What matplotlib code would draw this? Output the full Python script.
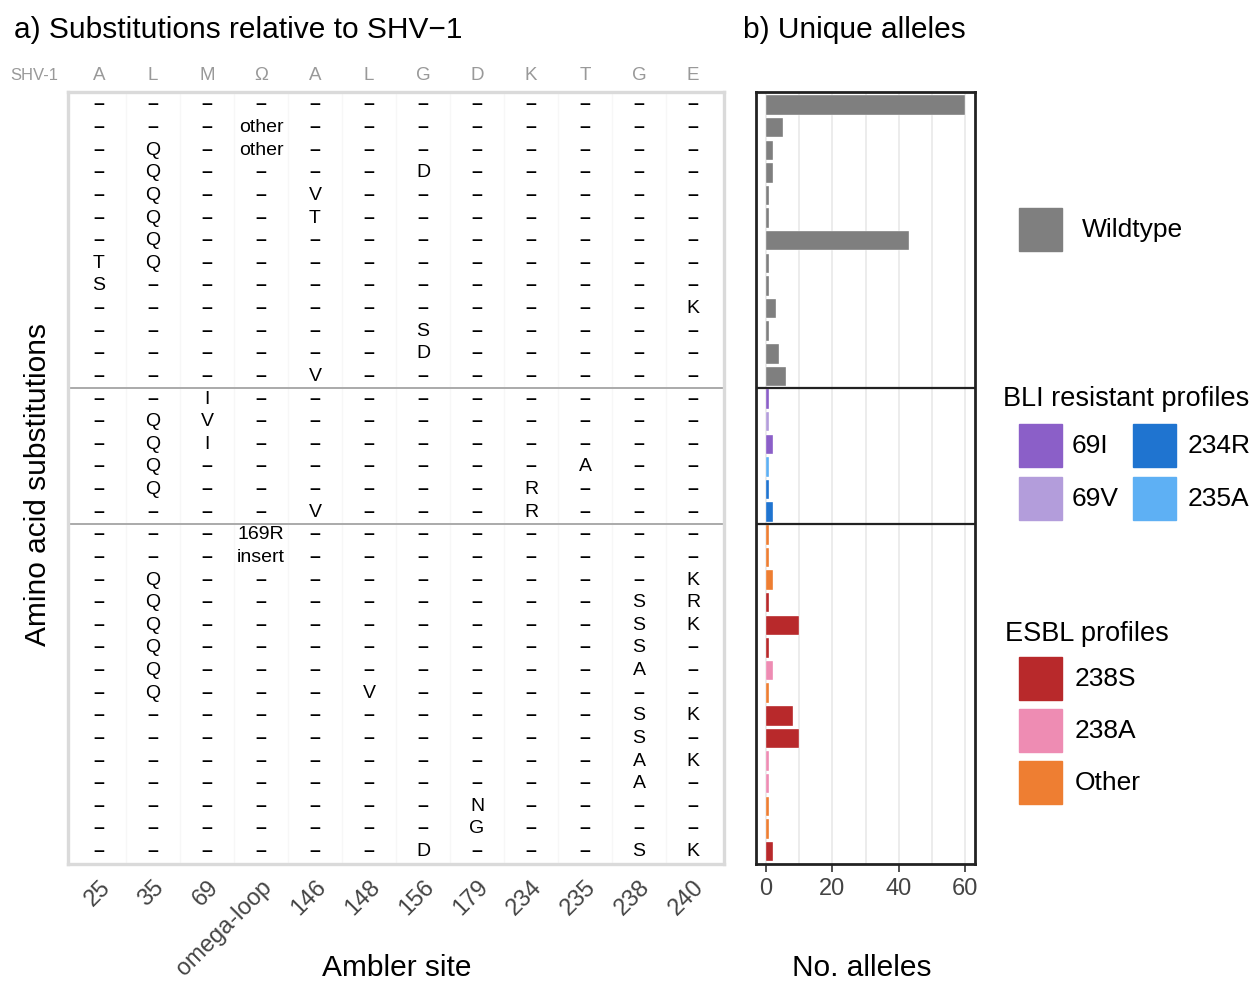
import matplotlib
matplotlib.use("Agg")
import matplotlib.pyplot as plt
import matplotlib.transforms as mtransforms
from matplotlib.patches import Rectangle

plt.rcParams['font.family'] = ['Liberation Sans', 'DejaVu Sans']

# ---------------- data ----------------
sites = ["25", "35", "69", "omega-loop", "146", "148", "156", "179", "234", "235", "238", "240"]
shv1_residues = ["A", "L", "M", "Ω", "A", "L", "G", "D", "K", "T", "G", "E"]

# one string per allele row; "-" = same as SHV-1
substitutions = [
    "- - - - - - - - - - - -",
    "- - - other - - - - - - - -",
    "- Q - other - - - - - - - -",
    "- Q - - - - D - - - - -",
    "- Q - - V - - - - - - -",
    "- Q - - T - - - - - - -",
    "- Q - - - - - - - - - -",
    "T Q - - - - - - - - - -",
    "S - - - - - - - - - - -",
    "- - - - - - - - - - - K",
    "- - - - - - S - - - - -",
    "- - - - - - D - - - - -",
    "- - - - V - - - - - - -",
    "- - I - - - - - - - - -",
    "- Q V - - - - - - - - -",
    "- Q I - - - - - - - - -",
    "- Q - - - - - - - A - -",
    "- Q - - - - - - R - - -",
    "- - - - V - - - R - - -",
    "- - - 169R - - - - - - - -",
    "- - - insert - - - - - - - -",
    "- Q - - - - - - - - - K",
    "- Q - - - - - - - - S R",
    "- Q - - - - - - - - S K",
    "- Q - - - - - - - - S -",
    "- Q - - - - - - - - A -",
    "- Q - - - V - - - - - -",
    "- - - - - - - - - - S K",
    "- - - - - - - - - - S -",
    "- - - - - - - - - - A K",
    "- - - - - - - - - - A -",
    "- - - - - - - N - - - -",
    "- - - - - - - G - - - -",
    "- - - - - - D - - - S K",
]

allele_counts = [60, 5, 2, 2, 1, 1, 43, 1, 1, 3, 1, 4, 6,
                 1, 1, 2, 1, 1, 2,
                 1, 1, 2, 1, 10, 1, 2, 1, 8, 10, 1, 1, 1, 1, 2]

profiles = ["Wildtype"] * 13 + ["69I", "69V", "69I", "235A", "234R", "234R"] + \
    ["Other", "Other", "Other", "238S", "238S", "238S", "238A", "Other",
     "238S", "238S", "238A", "238A", "Other", "Other", "238S"]

group_sizes = [13, 6, 15]

profile_colors = {
    "Wildtype": "#7F7F7F",
    "69I": "#8B5FC8",
    "69V": "#B39DDB",
    "234R": "#1F74D0",
    "235A": "#5EB0F4",
    "238S": "#B8292B",
    "238A": "#EE8CB3",
    "Other": "#EE7E32",
}

x_ticks_b = [0, 20, 40, 60]

# ---------------- figure ----------------
W, H = 1257, 981
fig = plt.figure(figsize=(W / 100, H / 100), dpi=100)


def px_axes(x0, y0, x1, y1):
    return fig.add_axes([x0 / W, 1 - y1 / H, (x1 - x0) / W, (y1 - y0) / H])


n_rows = len(substitutions)
n_cols = len(sites)
boundaries = []
acc = 0
for g in group_sizes[:-1]:
    acc += g
    boundaries.append(acc - 0.5)

# ---- panel a ----
ax = px_axes(68, 92, 724, 864)
ax.set_xlim(-0.574, n_cols - 1 + 0.574)
ax.set_ylim(n_rows - 1 + 0.55, -0.574)
for s in ax.spines.values():
    s.set_color("#DADADA")
    s.set_linewidth(2.4)

for i in range(n_cols - 1):
    ax.axvline(i + 0.5, color="#F7F7F7", lw=1.0, zorder=0)

for r, row in enumerate(substitutions):
    for c, tok in enumerate(row.split()):
        txt = "–" if tok == "-" else tok
        ax.text(c, r, txt, ha="center", va="center", fontsize=14, color="black",
                fontweight="bold" if tok == "-" else "normal")

for b in boundaries:
    ax.axhline(b, color="#AAAAAA", lw=1.4)

ax.set_yticks([])
ax.set_xticks(range(n_cols))
offset = mtransforms.ScaledTranslation(13 / 100, 0, fig.dpi_scale_trans)
ax.set_xticklabels(sites, rotation=45, ha="right", va="top", rotation_mode="anchor",
                   fontsize=17, color="#444444")
for lab in ax.get_xticklabels():
    lab.set_transform(lab.get_transform() + offset)
ax.tick_params(axis="x", length=0, pad=9)

top = ax.secondary_xaxis("top")
top.set_xticks(range(n_cols))
top.set_xticklabels(shv1_residues, fontsize=13.5, color="#999999")
top.tick_params(length=0, pad=6)
top.spines["top"].set_visible(False)
fig.text(34 / W, 1 - 75 / H, "SHV-1", ha="center", va="center", fontsize=12, color="#999999")

# ---- panel b ----
bx = px_axes(756, 92, 975, 864)
bx.set_xlim(-3, 63)
bx.set_ylim(n_rows - 1 + 0.55, -0.574)
for v in [0, 10, 20, 30, 40, 50, 60]:
    bx.axvline(v, color="#EBEBEB", lw=1.3, zorder=0)
bx.barh(range(n_rows), allele_counts, height=0.86,
        color=[profile_colors[p] for p in profiles], edgecolor="white", linewidth=0.25, zorder=2)
for b in boundaries:
    bx.axhline(b, color="#222222", lw=1.6, zorder=3)
for s in bx.spines.values():
    s.set_color("#222222")
    s.set_linewidth(2.0)
bx.set_yticks([])
bx.set_xticks(x_ticks_b)
bx.set_xticklabels([str(v) for v in x_ticks_b], fontsize=17, color="#444444")
bx.tick_params(axis="x", length=6, width=1.2, color="#333333", pad=4)

# ---- titles / labels ----
fig.text(14 / W, 1 - 30 / H, "a) Substitutions relative to SHV−1", ha="left", va="center", fontsize=21.5)
fig.text(743 / W, 1 - 30 / H, "b) Unique alleles", ha="left", va="center", fontsize=21.5)
fig.text(38 / W, 1 - 484 / H, "Amino acid substitutions", ha="center", va="center",
         rotation=90, fontsize=21.5)
fig.text(397 / W, 1 - 968 / H, "Ambler site", ha="center", va="center", fontsize=21.5)
fig.text(862 / W, 1 - 968 / H, "No. alleles", ha="center", va="center", fontsize=21.5)

# ---- legend (drawn manually) ----
def key(x0, y0, label, lx):
    fig.patches.append(Rectangle((x0 / W, 1 - (y0 + 43) / H), 43 / W, 43 / H,
                                 transform=fig.transFigure, color=profile_colors[label]))
    fig.text(lx / W, 1 - (y0 + 22) / H, label, ha="left", va="center", fontsize=19)

key(1019, 208, "Wildtype", 1082)
fig.text(1003 / W, 1 - 399 / H, "BLI resistant profiles", ha="left", va="center", fontsize=19.5)
key(1019, 424, "69I", 1072)
key(1133, 424, "234R", 1188)
key(1019, 477, "69V", 1072)
key(1133, 477, "235A", 1188)
fig.text(1005 / W, 1 - 634 / H, "ESBL profiles", ha="left", va="center", fontsize=19.5)
key(1019, 657, "238S", 1075)
key(1019, 709, "238A", 1075)
key(1019, 761, "Other", 1075)

fig.savefig("out.png", dpi=100)
